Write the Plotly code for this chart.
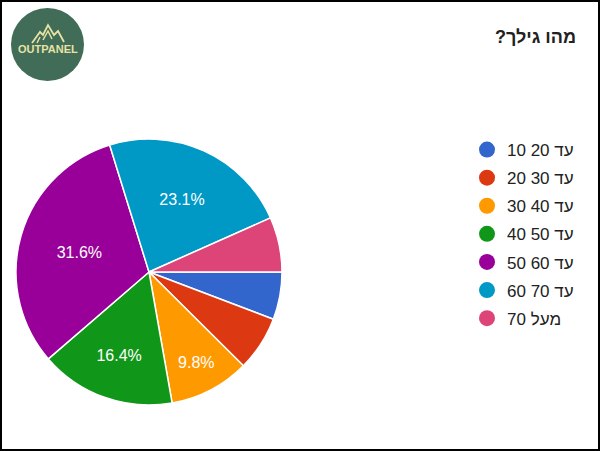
import plotly.graph_objects as go

W, H = 600, 451

labels = ["10 20 עד", "20 30 עד", "30 40 עד", "40 50 עד", "50 60 עד", "60 70 עד", "70 מעל"]
counts = [13, 15, 22, 37, 71, 52, 15]
colors = ["#3366cc", "#dc3912", "#ff9900", "#109618", "#990099", "#0099c6", "#dd4477"]
title_text = "מהו גילך?\u200f"

total = sum(counts)
templates = ["%{percent:.1%}" if c / total >= 0.08 else "" for c in counts]

def px(x):
    return x / W

def py(y):
    return 1 - y / H

fig = go.Figure()

fig.add_trace(go.Pie(
    labels=labels,
    values=counts,
    sort=False,
    direction="clockwise",
    rotation=90,
    marker=dict(colors=colors, line=dict(color="white", width=1.5)),
    texttemplate=templates,
    textposition="inside",
    insidetextorientation="horizontal",
    textfont=dict(family="Arial, Liberation Sans, sans-serif", size=16, color="white"),
    showlegend=False,
    hoverinfo="label+percent",
    domain=dict(x=[px(16), px(282)], y=[py(405), py(139)]),
))

for lab, col in zip(labels, colors):
    fig.add_trace(go.Scatter(
        x=[None], y=[None], mode="markers", name=lab, legendgroup=lab,
        marker=dict(symbol="circle", size=18, color=col),
        showlegend=True,
    ))

# logo
fig.add_shape(type="circle", xref="paper", yref="paper",
              x0=px(11), x1=px(84), y0=py(81), y1=py(8),
              fillcolor="#416c57", line=dict(width=0))
fig.add_shape(type="path", xref="paper", yref="paper",
              path=f"M {px(32)} {py(43)} L {px(40)} {py(32)} L {px(43)} {py(35)} L {px(48)} {py(25)} "
                   f"L {px(54)} {py(35)} L {px(58)} {py(31)} L {px(64)} {py(42)}",
              line=dict(color="#e6e3a4", width=1.8))
fig.add_shape(type="path", xref="paper", yref="paper",
              path=f"M {px(37)} {py(43)} L {px(40)} {py(37)} M {px(43)} {py(40)} L {px(48)} {py(31)} L {px(52)} {py(39)}",
              line=dict(color="#e6e3a4", width=1.5))
fig.add_annotation(text="<b>OUTPANEL</b>", xref="paper", yref="paper",
                   x=px(47.5), y=py(49), xanchor="center", yanchor="middle", showarrow=False,
                   font=dict(family="Arial, Liberation Sans, sans-serif", size=11, color="#e6e3a4"))

# title
fig.add_annotation(text=f"<b>{title_text}</b>", xref="paper", yref="paper",
                   x=px(578), y=py(37), xanchor="right", yanchor="middle", showarrow=False,
                   font=dict(family="Arial, Liberation Sans, sans-serif", size=18, color="#212121"))

# border
fig.add_shape(type="rect", xref="paper", yref="paper", x0=0, x1=1, y0=0, y1=1,
              line=dict(color="black", width=4))

fig.update_layout(
    width=W, height=H,
    margin=dict(l=0, r=0, t=0, b=0),
    paper_bgcolor="white", plot_bgcolor="white",
    xaxis=dict(visible=False), yaxis=dict(visible=False),
    legend=dict(x=px(467), y=py(132), xanchor="left", yanchor="top",
                font=dict(family="Arial, Liberation Sans, sans-serif", size=17, color="#222222"),
                tracegroupgap=3, itemsizing="trace", bgcolor="rgba(0,0,0,0)"),
)

fig.write_html("out.html", config={"displayModeBar": False},
               post_script="document.body.style.margin='0';document.body.style.overflow='hidden';")
